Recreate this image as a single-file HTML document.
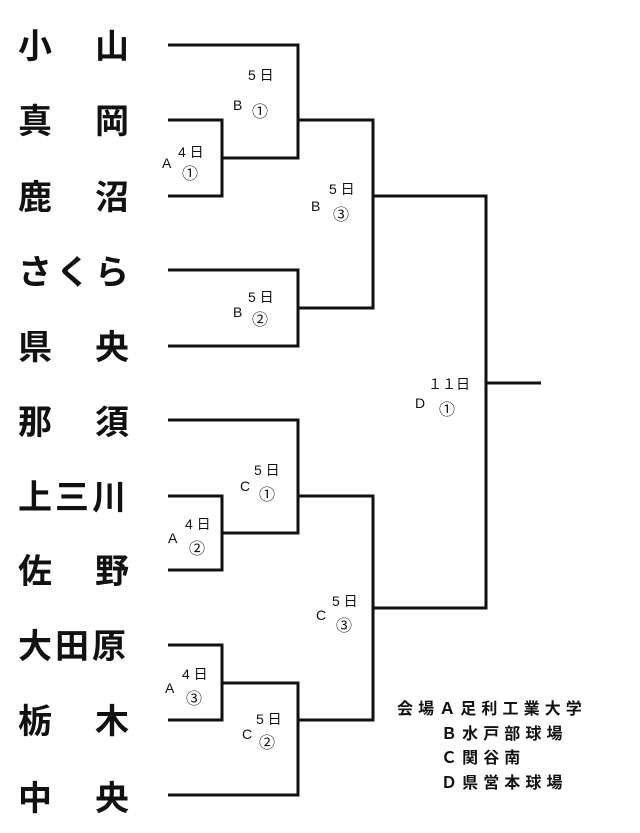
<!DOCTYPE html>
<html><head><meta charset="utf-8"><style>
html,body{margin:0;padding:0;background:#fff;}
svg{display:block;}
.t{font-family:"Liberation Sans","Noto Sans CJK JP",sans-serif;font-weight:bold;font-size:34px;fill:#111;}
.s{font-family:"Liberation Sans","Noto Sans CJK JP",sans-serif;font-size:14px;fill:#111;}
.c{font-family:"Noto Sans CJK JP",sans-serif;font-size:16px;fill:#111;}
.l{font-family:"Liberation Sans","Noto Sans CJK JP",sans-serif;font-weight:bold;font-size:16px;letter-spacing:5.1px;fill:#111;}
</style></head><body>
<svg width="640" height="833" viewBox="0 0 640 833" xmlns="http://www.w3.org/2000/svg">
<g class="t">
<text x="18" y="58">小</text><text x="95" y="58">山</text>
<text x="18" y="133">真</text><text x="95" y="133">岡</text>
<text x="18" y="209">鹿</text><text x="95" y="209">沼</text>
<text x="18" y="284">さ</text><text x="56" y="284">く</text><text x="95" y="284">ら</text>
<text x="18" y="359">県</text><text x="95" y="359">央</text>
<text x="18" y="434">那</text><text x="95" y="434">須</text>
<text x="18" y="509">上</text><text x="55" y="509">三</text><text x="92" y="509">川</text>
<text x="18" y="583">佐</text><text x="95" y="583">野</text>
<text x="18" y="658">大</text><text x="55" y="658">田</text><text x="92" y="658">原</text>
<text x="18" y="733">栃</text><text x="95" y="733">木</text>
<text x="18" y="810">中</text><text x="95" y="810">央</text>
</g>
<g fill="none" stroke="#111" stroke-width="3">
<polyline points="168,45 298,45 298,158 222,158"/>
<polyline points="168,120 222,120 222,196 168,196"/>
<polyline points="168,270 298,270 298,346 168,346"/>
<polyline points="298,120 373,120 373,308 298,308"/>
<polyline points="373,196 486,196 486,608 373,608"/>
<line x1="486" y1="383" x2="541" y2="383"/>
<polyline points="168,420 298,420 298,533 222,533"/>
<polyline points="168,496 222,496 222,570 168,570"/>
<polyline points="168,645 222,645 222,720 168,720"/>
<polyline points="222,683 298,683 298,795 168,795"/>
<polyline points="298,496 373,496 373,720 298,720"/>
</g>
<g class="s">
<text x="248" y="80">5 日</text><text x="233" y="110">B</text>
<text x="178" y="157">4 日</text><text x="162" y="168">A</text>
<text x="329" y="194">5 日</text><text x="311" y="211">B</text>
<text x="248" y="302">5 日</text><text x="233" y="317">B</text>
<text x="428" y="389">１１日</text><text x="415" y="408">D</text>
<text x="254" y="475">5 日</text><text x="240" y="491">C</text>
<text x="185" y="529">4 日</text><text x="168" y="543">A</text>
<text x="332" y="606">5 日</text><text x="316" y="620">C</text>
<text x="182" y="679">4 日</text><text x="165" y="693">A</text>
<text x="256" y="724">5 日</text><text x="242" y="739">C</text>
</g>
<g class="c">
<text x="252" y="117">①</text>
<text x="182" y="179">①</text>
<text x="333" y="220">③</text>
<text x="252" y="325">②</text>
<text x="439" y="415">①</text>
<text x="259" y="500">①</text>
<text x="189" y="554">②</text>
<text x="336" y="631">③</text>
<text x="186" y="704">③</text>
<text x="259" y="748">②</text>
</g>
<g class="l">
<text x="397" y="714">会場Ａ足利工業大学</text>
<text x="441" y="739">Ｂ水戸部球場</text>
<text x="441" y="763">Ｃ関谷南</text>
<text x="441" y="788">Ｄ県営本球場</text>
</g>
</svg>
</body></html>
